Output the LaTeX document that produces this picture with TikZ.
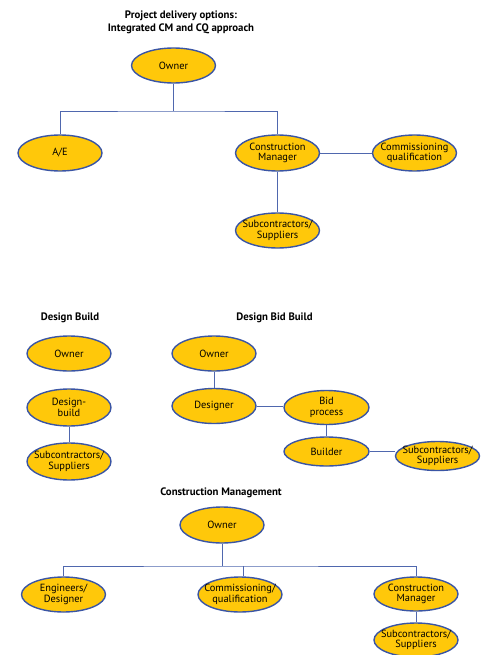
\documentclass[tikz,border=0pt]{standalone}
\usepackage{fontspec}
\setmainfont{PT Sans}
\usepackage{tikz}
\usetikzlibrary{shapes.geometric,positioning}
\definecolor{gold}{HTML}{FFC80A}
\definecolor{rim}{HTML}{3A55A4}
\definecolor{wire}{HTML}{4F67AE}

\begin{document}
\begin{tikzpicture}[
  x=1pt, y=-1pt,
  party/.style={ellipse, draw=rim, fill=gold, line width=1.4pt,
                inner xsep=-10pt, inner ysep=-2pt,
                minimum width=84pt, minimum height=36pt, align=center,
                font=\fontsize{10.4}{10.5}\selectfont},
  heading/.style={align=center, font=\fontsize{10.8}{13}\selectfont\bfseries},
  link/.style={draw=wire, line width=0.9pt}
]
\useasboundingbox (0,0) rectangle (486,655);

% integrated CM and CQ
\node[heading] (title1) at (181,22) {Project delivery options:\\Integrated CM and CQ approach};
\node[party, minimum height=35pt] (own1) at (173.5,65.5) {Owner};
\node[party] (ae) at (60,153) {A/E};
\node[party] (cm1) at (277.5,153) {Construction\\Manager};
\node[party] (cq1) at (414.5,153) {Commissioning\\qualification};
\node[party, minimum height=35pt] (sub1) at (277.5,230.5) {Subcontractors/\\Suppliers};
\coordinate (bus1) at (173.5,111);
\draw[link] (own1) -- (bus1);
\draw[link] (ae.north) |- (bus1) -| (cm1.north);
\draw[link] (cm1) -- (cq1);
\draw[link] (cm1) -- (sub1);

% design build
\node[heading] (title2) at (70,318) {Design Build};
\node[party, minimum height=35pt] (own2) at (69,353.5) {Owner};
\node[party, minimum height=37pt] (db) at (69,407.5) {Design-\\build};
\node[party, minimum height=37pt] (sub2) at (69,461.5) {Subcontractors/\\Suppliers};
\draw[link] (db) -- (sub2);

% design bid build
\node[heading] (title3) at (274.5,318) {Design Bid Build};
\node[party, minimum height=35pt] (own3) at (214,353.5) {Owner};
\node[party, minimum height=35pt] (des) at (214,406) {Designer};
\node[party, minimum height=34pt, minimum width=85pt] (bid) at (326.5,407.5) {Bid\\process};
\node[party, minimum height=29pt, minimum width=85pt] (bld) at (326.5,451.5) {Builder};
\node[party, minimum height=29pt] (sub3) at (437.5,456) {Subcontractors/\\Suppliers};
\draw[link] (own3) -- (des);
\draw[link] (des.east) -- (des.east -| bid.west);
\draw[link] (bid) -- (bld);
\draw[link] (bld.east) -- (bld.east -| sub3.west);

% construction management
\node[heading] (title4) at (221,493) {Construction Management};
\node[party] (own4) at (222,525) {Owner};
\node[party, minimum height=35pt] (eng) at (63.5,594.5) {Engineers/\\Designer};
\node[party, minimum height=35pt] (cq4) at (240,594.5) {Commissioning/\\qualification};
\node[party, minimum height=34pt] (cm4) at (416,594) {Construction\\Manager};
\node[party, minimum height=34pt] (sub4) at (416,640) {Subcontractors/\\Suppliers};
\coordinate (bus4) at (222,566);
\draw[link] (own4) -- (bus4);
\draw[link] (eng.north) |- (bus4) -| (cm4.north);
\draw[link] ([xshift=3pt]cq4.north) -- ([xshift=3pt]cq4.north |- bus4);
\draw[link] (cm4) -- (sub4);
\end{tikzpicture}
\end{document}
